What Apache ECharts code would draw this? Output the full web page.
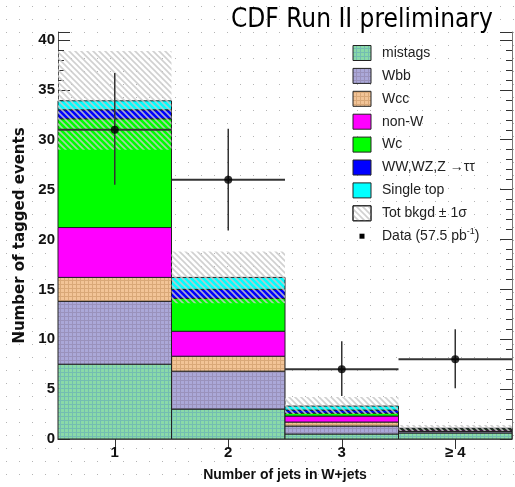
<!DOCTYPE html>
<html>
<head>
<meta charset="utf-8">
<script src="https://cdn.jsdelivr.net/npm/echarts@6/dist/echarts.min.js"></script>
<style>
html,body{margin:0;padding:0;background:#fff;}
#chart{width:515px;height:487px;}
</style>
</head>
<body>
<div id="chart"></div>
<script>
// ---- data ----
const categories = ['1', '2', '3', '\u2265 4'];
const yTicks = [0, 5, 10, 15, 20, 25, 30, 35, 40];
const componentNames = ['mistags', 'Wbb', 'Wcc', 'non-W', 'Wc', 'WW,WZ,Z \u2192\u03c4\u03c4', 'Single top'];
const mistags   = [7.5, 3.0, 0.5, 0.6];
const wbb       = [6.3, 3.8, 0.8, 0.15];
const wcc       = [2.4, 1.5, 0.4, 0.05];
const nonW      = [5.0, 2.5, 0.6, 0.1];
const wc        = [10.9, 3.3, 0.3, 0.1];
const diboson   = [0.9, 0.9, 0.3, 0.03];
const singleTop = [0.9, 1.2, 0.4, 0.05];
const bkgdLow   = [29.0, 13.6, 2.5, 0.8];
const bkgdHigh  = [38.9, 18.8, 4.2, 1.4];
const dataValues = [31, 26, 7, 8];
const dataLow    = [25.5, 20.9, 4.3, 5.1];
const dataHigh   = [36.7, 31.1, 9.8, 11.0];

// ---- fills ----
function gridPattern(base, line, step) {
  const c = document.createElement('canvas');
  c.width = step; c.height = step;
  const g = c.getContext('2d');
  g.fillStyle = base; g.fillRect(0, 0, step, step);
  g.fillStyle = line; g.fillRect(0, 0, step, 1); g.fillRect(0, 0, 1, step);
  return { image: c, repeat: 'repeat' };
}
function hatchPattern(color) {
  const s = 6;
  const c = document.createElement('canvas');
  c.width = s; c.height = s;
  const g = c.getContext('2d');
  g.strokeStyle = color; g.lineWidth = 1.6;
  g.beginPath();
  g.moveTo(-1, -1); g.lineTo(s + 1, s + 1);
  g.moveTo(-1, s - 1); g.lineTo(1, s + 1);
  g.moveTo(s - 1, -1); g.lineTo(s + 1, 1);
  g.stroke();
  return { image: c, repeat: 'repeat' };
}
function dotPattern() {
  const s = 13;
  const c = document.createElement('canvas');
  c.width = s; c.height = s;
  const g = c.getContext('2d');
  g.fillStyle = '#fff'; g.fillRect(0, 0, s, s);
  g.fillStyle = '#b4b4b4'; g.fillRect(6, 6, 1, 1);
  return { image: c, repeat: 'repeat' };
}
const fills = [
  gridPattern('#8adaa8', '#74bdb2', 4),
  gridPattern('#aba8d8', '#9a92bc', 4),
  gridPattern('#f2c497', '#d9a878', 4),
  '#ff00ff',
  '#00ff00',
  '#0000ff',
  '#00ffff'
];
const hatch = hatchPattern('rgba(200,200,200,0.85)');

const layers = [mistags, wbb, wcc, nonW, wc, diboson, singleTop];
const cum = categories.map(() => 0);
const series = [];

function rectItem(fill, stroke, lw) {
  return function (params, api) {
    const i = api.value(0);
    const p0 = api.coord([i, api.value(1)]);
    const p1 = api.coord([i, api.value(2)]);
    const w = api.size([1, 0])[0];
    return {
      type: 'rect',
      shape: { x: p0[0] - w / 2, y: p1[1], width: w, height: p0[1] - p1[1] },
      style: { fill: fill, stroke: stroke, lineWidth: lw }
    };
  };
}

layers.forEach((vals, k) => {
  const d = vals.map((v, i) => { const b = cum[i]; cum[i] += v; return [i, b, b + v]; });
  series.push({
    type: 'custom', name: componentNames[k], data: d,
    encode: { x: 0, y: [1, 2] }, z: 2,
    renderItem: rectItem(fills[k], '#222', 1)
  });
});

// total background +-1 sigma band
series.push({
  type: 'custom', name: 'Tot bkgd \u00b1 1\u03c3',
  data: categories.map((c, i) => [i, bkgdLow[i], bkgdHigh[i]]),
  encode: { x: 0, y: [1, 2] }, z: 3,
  renderItem: rectItem(hatch, null, 0)
});

// data error bars
series.push({
  type: 'custom', name: 'Data errors',
  data: categories.map((c, i) => [i, dataValues[i], dataLow[i], dataHigh[i]]),
  encode: { x: 0, y: [1, 2, 3] }, z: 4,
  renderItem: function (params, api) {
    const i = api.value(0);
    const pc = api.coord([i, api.value(1)]);
    const pl = api.coord([i, api.value(2)]);
    const ph = api.coord([i, api.value(3)]);
    const w = api.size([1, 0])[0];
    return {
      type: 'group', children: [
        { type: 'line', shape: { x1: pc[0] - w / 2, y1: pc[1], x2: pc[0] + w / 2, y2: pc[1] }, style: { stroke: '#333', lineWidth: 2 } },
        { type: 'line', shape: { x1: pc[0], y1: pl[1], x2: pc[0], y2: ph[1] }, style: { stroke: '#333', lineWidth: 1.5 } }
      ]
    };
  }
});
series.push({
  type: 'scatter', name: 'Data', z: 5,
  data: categories.map((c, i) => [i, dataValues[i]]),
  symbol: 'circle', symbolSize: 8,
  itemStyle: { color: '#000' }
});

// ---- legend (drawn as graphic) ----
const legendEntries = componentNames.map((n, k) => ({ name: n, fill: fills[k] }));
legendEntries.push({ name: 'Tot bkgd \u00b1 1\u03c3', fill: 'hatch' });
legendEntries.push({ name: 'Data', fill: 'data' });
const graphics = [{ type: 'rect', z: -10, silent: true, shape: { x: 0, y: 0, width: 515, height: 487 }, style: { fill: dotPattern() } }];
legendEntries.forEach((e, k) => {
  const cy = 53 + k * 22.9;
  if (e.fill === 'data') {
    graphics.push({ type: 'rect', shape: { x: 359.5, y: cy - 2.5, width: 5, height: 5 }, style: { fill: '#000' } });
    graphics.push({ type: 'text', x: 382, y: cy, style: { text: 'Data (57.5 pb{s|-1})', rich: { s: { fontSize: 9, verticalAlign: 'bottom', padding: [0, 0, 10, 0], fontFamily: 'Liberation Sans', fill: '#222' } }, fontSize: 14, fontFamily: 'Liberation Sans', fill: '#222', verticalAlign: 'middle' } });
    return;
  }
  if (e.fill === 'hatch') {
    graphics.push({ type: 'rect', shape: { x: 353, y: cy - 7.5, width: 18, height: 15 }, style: { fill: '#fff', stroke: '#222', lineWidth: 1 } });
    graphics.push({ type: 'rect', shape: { x: 353, y: cy - 7.5, width: 18, height: 15 }, style: { fill: hatch, stroke: '#222', lineWidth: 1 } });
  } else {
    graphics.push({ type: 'rect', shape: { x: 353, y: cy - 7.5, width: 18, height: 15 }, style: { fill: e.fill, stroke: '#222', lineWidth: 1 } });
  }
  graphics.push({ type: 'text', x: 382, y: cy, style: { text: e.name, fontSize: 14, fontFamily: 'Liberation Sans', fill: '#222', verticalAlign: 'middle' } });
});

const chart = echarts.init(document.getElementById('chart'), null, { renderer: 'canvas' });
const yFormatter = v => (yTicks.indexOf(v) >= 0 ? String(v) : '');
const tickStyle = { color: '#333', width: 1 };
chart.setOption({
  animation: false,
  title: {
    text: 'CDF Run II preliminary', left: 226, top: 2,
    textStyle: { fontFamily: 'DejaVu Sans Condensed, DejaVu Sans', fontSize: 26, fontWeight: 'normal', color: '#000' }
  },
  grid: { left: 58, right: 3, top: 32, bottom: 47, show: false },
  xAxis: [
    {
      type: 'category', data: categories, position: 'bottom',
      name: 'Number of jets in W+jets', nameLocation: 'middle', nameGap: 29,
      nameTextStyle: { fontFamily: 'Liberation Sans', fontSize: 14, fontWeight: 'bold', color: '#111' },
      axisLine: { show: true, lineStyle: { color: '#555', width: 1 } },
      axisTick: { show: true, inside: true, alignWithLabel: true, length: 7, lineStyle: tickStyle },
      axisLabel: { margin: 6, fontFamily: 'Liberation Sans', fontSize: 15, fontWeight: 'bold', color: '#111' },
      splitLine: { show: false }
    },
    {
      type: 'category', data: categories, position: 'top',
      axisLine: { show: true, lineStyle: { color: '#777', width: 1 } },
      axisTick: { show: true, inside: true, alignWithLabel: true, length: 10, lineStyle: tickStyle },
      axisLabel: { show: false }, splitLine: { show: false }
    }
  ],
  yAxis: [
    {
      type: 'value', min: 0, max: 40.8, interval: 5, position: 'left',
      name: 'Number of tagged events', nameLocation: 'middle', nameGap: 29,
      nameTextStyle: { fontFamily: 'DejaVu Sans', fontSize: 15, fontWeight: 'bold', color: '#111' },
      axisLine: { show: true, lineStyle: { color: '#555', width: 1 } },
      axisTick: { show: true, inside: true, length: 12, lineStyle: tickStyle },
      axisLabel: { margin: 3, formatter: yFormatter, fontFamily: 'Liberation Sans', fontSize: 15, fontWeight: 'bold', color: '#111' },
      splitLine: { show: false }
    },
    {
      type: 'value', min: 0, max: 40.8, interval: 1, position: 'left',
      axisLine: { show: false },
      axisTick: { show: true, inside: true, length: 6, lineStyle: tickStyle },
      axisLabel: { show: false }, splitLine: { show: false }
    },
    {
      type: 'value', min: 0, max: 40.8, interval: 5, position: 'right',
      axisLine: { show: true, lineStyle: { color: '#777', width: 1 } },
      axisTick: { show: true, inside: true, length: 12, lineStyle: tickStyle },
      axisLabel: { show: false }, splitLine: { show: false }
    },
    {
      type: 'value', min: 0, max: 40.8, interval: 1, position: 'right',
      axisLine: { show: false },
      axisTick: { show: true, inside: true, length: 6, lineStyle: tickStyle },
      axisLabel: { show: false }, splitLine: { show: false }
    }
  ],
  graphic: graphics,
  series: series
});
</script>
</body>
</html>
